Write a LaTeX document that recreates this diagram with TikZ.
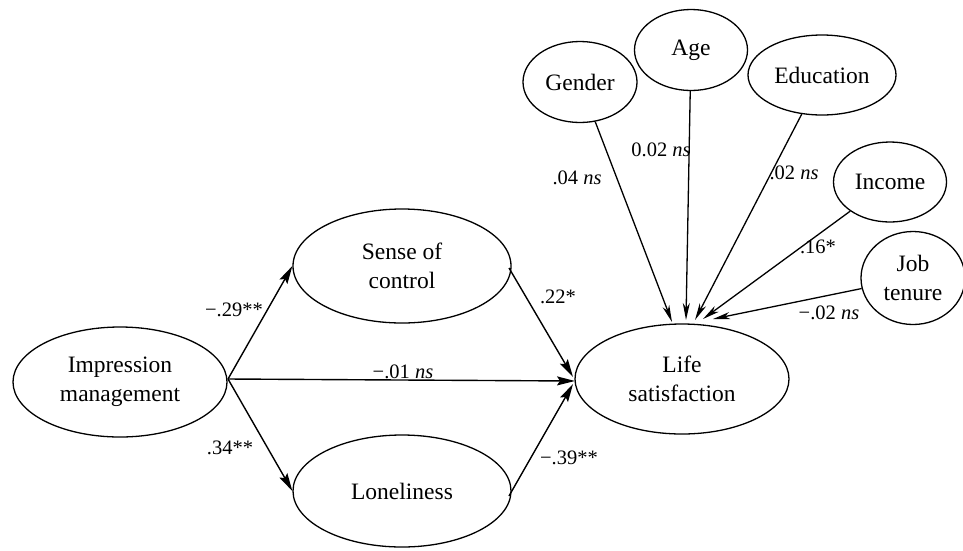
\documentclass[tikz,border=0pt]{standalone}
\usepackage{fontspec}
\setmainfont{Liberation Serif}[Ligatures=TeX]
\usetikzlibrary{shapes.geometric,arrows.meta}
\begin{document}
\begin{tikzpicture}[x=1pt,y=-1pt,
  var/.style={draw,ellipse,line width=1.3pt,inner sep=0pt,align=center,
    font=\rmfamily\fontsize{23.5}{29}\selectfont},
  lbl/.style={font=\rmfamily\fontsize{20.5}{24}\selectfont,inner sep=0pt},
  path/.style={line width=1.4pt,-{Stealth[length=18pt,width=9pt,inset=3pt]}},
  cov/.style={line width=1.3pt,-{Stealth[length=17pt,width=7pt,inset=5pt]}}]
\useasboundingbox (0,0) rectangle (963,550);
% nodes
\node[var,minimum width=214pt,minimum height=110pt] (im) at (120,382) {Impression\\management};
\node[var,minimum width=218pt,minimum height=114pt] (soc) at (402,266) {Sense of\\control};
\node[var,minimum width=218pt,minimum height=112pt] (lon) at (402,491) {Loneliness};
\node[var,minimum width=214pt,minimum height=110pt] (ls) at (682,379) {Life\\satisfaction};
\node[var,minimum width=114pt,minimum height=81pt] (gen) at (580,82) {Gender};
\node[var,minimum width=113pt,minimum height=81pt] (age) at (691,50) {Age};
\node[var,minimum width=148pt,minimum height=80pt] (edu) at (822,75) {Education};
\node[var,minimum width=113pt,minimum height=80pt] (inc) at (890,182) {Income};
\node[var,minimum width=104pt,minimum height=93pt] (job) at (913,278) {Job\\tenure};
% connector end points
\coordinate (imR) at (228,379);
\coordinate (tG) at (672,322);
\coordinate (tA) at (686,320);
\coordinate (tE) at (695,320);
\coordinate (tI) at (703,319);
\coordinate (tJ) at (713,319);
\coordinate (sE) at (509,268);
\coordinate (lE) at (509,496);
\coordinate (lsA) at (573,377);
\coordinate (lsB) at (575,381);
\coordinate (lsC) at (573,384);
% main paths
\draw[path] (imR) -- (soc.west);
\draw[path] (imR) -- (lon.west);
\draw[path] (imR) -- (lsB);
\draw[path] (sE) -- (lsA);
\draw[path] (lE) -- (lsC);
% covariates
\draw[cov] (gen) -- (tG);
\draw[cov] (age) -- (tA);
\draw[cov] (edu) -- (tE);
\draw[cov] (inc) -- (tI);
\draw[cov] (job) -- (tJ);
% labels
\node[lbl] (l1) at (234,310) {−.29**};
\node[lbl] (l2) at (230,448) {.34**};
\node[lbl] (l3) at (403,372) {−.01 \textit{ns}};
\node[lbl] (l4) at (558,297) {.22*};
\node[lbl] (l5) at (569,458) {−.39**};
\node[lbl] (l6) at (577,178) {.04 \textit{ns}};
\node[lbl] (l7) at (661,150) {0.02 \textit{ns}};
\node[lbl] (l8) at (794,173) {.02 \textit{ns}};
\node[lbl] (l9) at (818,247) {.16*};
\node[lbl] (l10) at (829,313) {−.02 \textit{ns}};
\end{tikzpicture}
\end{document}
